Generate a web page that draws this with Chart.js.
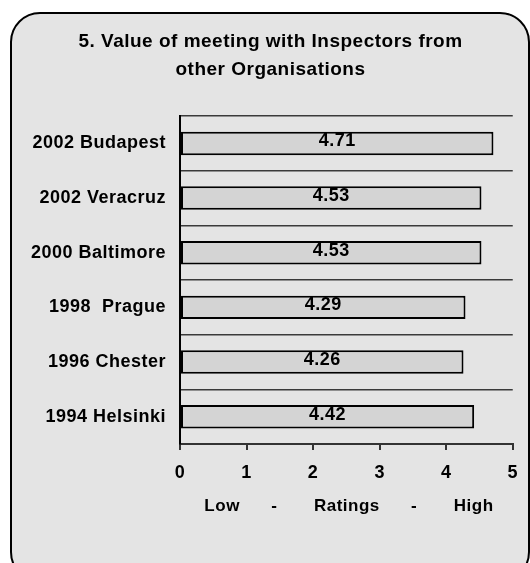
<!DOCTYPE html>
<html>
<head>
<meta charset="utf-8">
<script src="https://cdn.jsdelivr.net/npm/chart.js@4"></script>
<style>
  html, body { margin: 0; padding: 0; background: #fff; }
  #wrap { position: relative; width: 530px; height: 563px; overflow: hidden; }
  #panel {
    position: absolute; left: 10px; top: 12px; width: 516px; height: 566px;
    border: 2px solid #000; border-radius: 30px; background: #e4e4e4;
  }
  #chart { position: absolute; left: 0; top: 0; }
</style>
</head>
<body>
<div id="wrap">
  <div id="panel"></div>
  <canvas id="chart" width="530" height="563"></canvas>
</div>
<script>
// ===== DATA =====
const venues = ['2002 Budapest', '2002 Veracruz', '2000 Baltimore', '1998  Prague', '1996 Chester', '1994 Helsinki'];
const ratings = [4.71, 4.53, 4.53, 4.29, 4.26, 4.42];
const ratingTicks = [0, 1, 2, 3, 4, 5];
const chartTitle = ['5. Value of meeting with Inspectors from', 'other Organisations'];
const axisTitle = ' Low      -       Ratings      -       High';

const FONT = "'Liberation Sans', Arial, sans-serif";
const SPACING = '0.5px';

// slightly wider letter spacing, like the old spreadsheet rendering
const spacingPlugin = {
  id: 'spacing',
  beforeLayout(chart) { chart.ctx.letterSpacing = SPACING; },
  beforeDraw(chart) { chart.ctx.letterSpacing = SPACING; },
};

// value labels centred inside each bar
const valueLabels = {
  id: 'valueLabels',
  afterDatasetsDraw(chart) {
    const ctx = chart.ctx;
    const meta = chart.getDatasetMeta(0);
    ctx.save();
    ctx.letterSpacing = SPACING;
    ctx.font = `bold 18px ${FONT}`;
    ctx.fillStyle = '#000';
    ctx.textAlign = 'center';
    ctx.textBaseline = 'middle';
    meta.data.forEach((bar, i) => {
      const cx = (bar.x + bar.base) / 2;
      ctx.fillText(ratings[i].toFixed(2), cx, bar.y - 2);
    });
    ctx.restore();
  },
};

new Chart(document.getElementById('chart'), {
  type: 'bar',
  data: {
    labels: venues,
    datasets: [{
      data: ratings,
      backgroundColor: '#d4d4d4',
      borderColor: '#000',
      borderWidth: 2,
      borderSkipped: false,
      categoryPercentage: 1,
      barPercentage: 0.43,
    }],
  },
  options: {
    indexAxis: 'y',
    responsive: false,
    animation: false,
    layout: { padding: { left: 28, right: 17, top: 0, bottom: 0 } },
    plugins: {
      legend: { display: false },
      tooltip: { enabled: false },
      title: {
        display: true,
        text: chartTitle,
        color: '#000',
        font: { family: FONT, size: 19, weight: 'bold', lineHeight: 1.45 },
        padding: { top: 28, bottom: 33 },
      },
    },
    scales: {
      x: {
        min: 0,
        max: 5,
        afterFit: (scale) => { scale.height = 119; },
        afterBuildTicks: (scale) => { scale.ticks = ratingTicks.map(v => ({ value: v })); },
        grid: { drawOnChartArea: false, drawTicks: true, tickLength: 6, color: '#333', lineWidth: 2 },
        border: { display: true, color: '#333', width: 2 },
        ticks: { color: '#000', padding: 12, font: { family: FONT, size: 18, weight: 'bold' } },
        title: {
          display: true,
          text: axisTitle,
          color: '#000',
          font: { family: FONT, size: 17, weight: 'bold' },
          padding: { top: 14, bottom: 46 },
        },
      },
      y: {
        afterFit: (scale) => { scale.width = 152; },
        grid: { offset: true, drawTicks: false, color: '#3a3a3a', lineWidth: 1.5 },
        border: { display: true, color: '#000', width: 2 },
        ticks: { color: '#000', padding: 14, font: { family: FONT, size: 18, weight: 'bold' } },
      },
    },
  },
  plugins: [spacingPlugin, valueLabels],
});
</script>
</body>
</html>
